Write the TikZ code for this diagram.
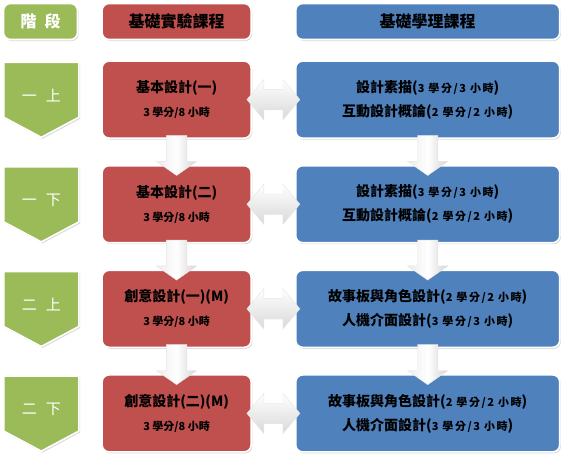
\documentclass[tikz,border=0pt]{standalone}
\usepackage{fontspec}
\setmainfont{Noto Sans CJK TC}
\usepackage{xcolor}
\usetikzlibrary{shapes.arrows,shadows,positioning,calc}
\definecolor{stagegreen}{HTML}{9BBB59}
\definecolor{labred}{HTML}{C0504D}
\definecolor{thyblue}{HTML}{4F81BD}
\newcommand{\hrs}[1]{{\fontsize{11}{12}\selectfont #1}}
\newcommand{\hrw}[1]{{\fontsize{11}{12}\selectfont\addfontfeature{LetterSpace=14}#1}}

\begin{document}
\begin{tikzpicture}[x=1pt,y=-1pt,node distance=26pt,
	box/.style={rounded corners=7pt,draw=white,line width=1.6pt,minimum height=77pt,align=center,inner sep=0pt,
		drop shadow={opacity=0.3,shadow xshift=1.2pt,shadow yshift=-1.5pt},font=\bfseries\fontsize{14}{24}\selectfont},
	head/.style={box,minimum height=36pt,font=\bfseries\fontsize{16}{18}\selectfont},
	stagebox/.style={fill=stagegreen,draw=white,line width=1.6pt,
		drop shadow={opacity=0.3,shadow xshift=1.2pt,shadow yshift=-1.5pt}},
	stagetext/.style={text=white,font=\fontsize{15}{18}\selectfont,inner sep=0pt},
	lab/.style={box,fill=labred,minimum width=149pt},
	thy/.style={box,fill=thyblue,minimum width=264pt},
	darrow/.style={single arrow,shape border rotate=270,minimum height=40pt,inner sep=10pt,
		single arrow head extend=10pt,single arrow tip angle=110,
		left color=gray!15,right color=gray!35,middle color=white,draw=gray!20,line width=0.4pt},
	harrow/.style={double arrow,minimum height=53pt,inner xsep=0pt,inner ysep=10pt,
		double arrow head extend=10pt,double arrow tip angle=100,
		top color=white,bottom color=gray!30,draw=gray!20,line width=0.4pt}]

	\useasboundingbox (0,0) rectangle (569,467);

	% header row
	\node[head,fill=stagegreen,minimum width=74pt,text=white] (G0) at (40.5,21.5) {階\hspace{8pt}段};
	\node[head,fill=labred,minimum width=149pt] (R0) [right=23pt of G0] {基礎實驗課程};
	\node[head,fill=thyblue,minimum width=264pt] (B0) [right=43pt of R0] {基礎學理課程};

	% lab courses
	\node[lab] (R1) [below=20pt of R0] {基本設計(一)\\\hrs{3 學分/8 小時}};
	\node[lab] (R2) [below=of R1] {基本設計(二)\\\hrs{3 學分/8 小時}};
	\node[lab] (R3) [below=of R2] {創意設計(一)(M)\\\hrs{3 學分/8 小時}};
	\node[lab] (R4) [below=of R3] {創意設計(二)(M)\\\hrs{3 學分/8 小時}};

	% theory courses
	\node[thy] (B1) [right=43pt of R1] {設計素描(\hrw{3 學分/3 小時})\\互動設計概論(\hrw{2 學分/2 小時})};
	\node[thy] (B2) [right=43pt of R2] {設計素描(\hrw{3 學分/3 小時})\\互動設計概論(\hrw{2 學分/2 小時})};
	\node[thy] (B3) [right=43pt of R3] {故事板與角色設計(\hrw{2 學分/2 小時})\\人機介面設計(\hrw{3 學分/3 小時})};
	\node[thy] (B4) [right=43pt of R4] {故事板與角色設計(\hrw{2 學分/2 小時})\\人機介面設計(\hrw{3 學分/3 小時})};

	% stages (pentagon arrows)
	\path[stagebox] ($(R1.north west)+(-97.5,2)$) -- ++(75,0) -- ++(0,55) -- ++(-37.5,20) -- ++(-37.5,-20) -- cycle;
	\path[stagebox] ($(R2.north west)+(-97.5,2)$) -- ++(75,0) -- ++(0,55) -- ++(-37.5,20) -- ++(-37.5,-20) -- cycle;
	\path[stagebox] ($(R3.north west)+(-97.5,2)$) -- ++(75,0) -- ++(0,55) -- ++(-37.5,20) -- ++(-37.5,-20) -- cycle;
	\path[stagebox] ($(R4.north west)+(-97.5,2)$) -- ++(75,0) -- ++(0,55) -- ++(-37.5,20) -- ++(-37.5,-20) -- cycle;
	\node[stagetext] (G1) at ($(R1.west)+(-60,-4)$) {一\hspace{9pt}上};
	\node[stagetext] (G2) at ($(R2.west)+(-60,-4)$) {一\hspace{9pt}下};
	\node[stagetext] (G3) at ($(R3.west)+(-60,-4)$) {二\hspace{9pt}上};
	\node[stagetext] (G4) at ($(R4.west)+(-60,-4)$) {二\hspace{9pt}下};

	% block arrows
	\node[harrow] at ($(R1.east)!0.5!(B1.west)$) {};
	\node[harrow] at ($(R2.east)!0.5!(B2.west)$) {};
	\node[harrow] at ($(R3.east)!0.5!(B3.west)$) {};
	\node[harrow] at ($(R4.east)!0.5!(B4.west)$) {};
	\node[darrow] at ($(R1.south)!0.5!(R2.north)$) {};
	\node[darrow] at ($(R2.south)!0.5!(R3.north)$) {};
	\node[darrow] at ($(R3.south)!0.5!(R4.north)$) {};
	\node[darrow] at ($(B1.south)!0.5!(B2.north)$) {};
	\node[darrow] at ($(B2.south)!0.5!(B3.north)$) {};
	\node[darrow] at ($(B3.south)!0.5!(B4.north)$) {};
\end{tikzpicture}
\end{document}
